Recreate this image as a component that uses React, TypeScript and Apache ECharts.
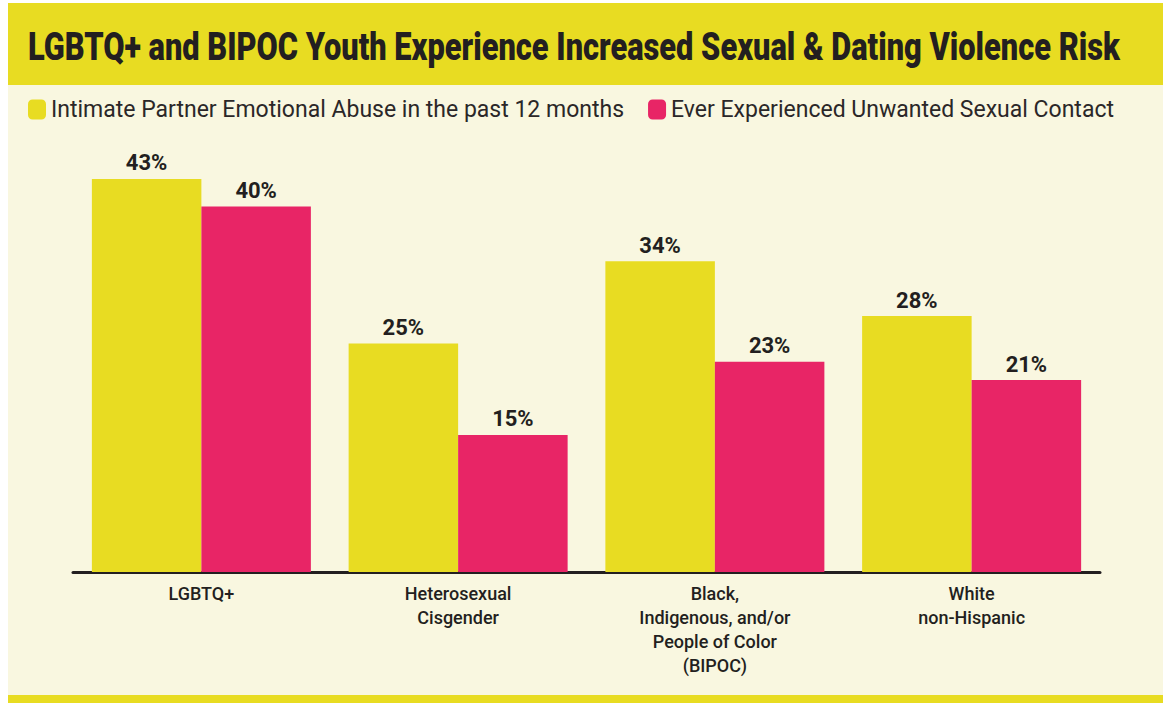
import React, { useEffect, useRef } from "react";
import * as echarts from "echarts";

const categories = [
  "LGBTQ+",
  "Heterosexual\nCisgender",
  "Black,\nIndigenous, and/or\nPeople of Color\n(BIPOC)",
  "White\nnon-Hispanic",
];
const seriesNames = [
  "Intimate Partner Emotional Abuse in the past 12 months",
  "Ever Experienced Unwanted Sexual Contact",
];
const emotionalAbuse = [43, 25, 34, 28];
const unwantedContact = [40, 15, 23, 21];
const titleText = "LGBTQ+ and BIPOC Youth Experience Increased Sexual & Dating Violence Risk";

const YELLOW = "#E8DC22";
const PINK = "#E82566";
const CREAM = "#F9F7E0";
const INK = "#231F20";
const FONT = "Roboto, 'Noto Sans', sans-serif";

function measure(text: string, font: string): number {
  const c = document.createElement("canvas").getContext("2d");
  if (!c) return 0;
  c.font = font;
  return c.measureText(text).width;
}

export default function App() {
  const ref = useRef<HTMLDivElement>(null);
  useEffect(() => {
    if (!ref.current) return;
    const chart = echarts.init(ref.current, null, { renderer: "svg" });
    const titleSize = 39;
    const titleWidth = measure(titleText, `900 ${titleSize}px Roboto`) || 1400;
    const titleScale = 1093 / titleWidth;
    const label = {
      show: true,
      position: "top" as const,
      distance: 5,
      formatter: "{c}%",
      fontFamily: FONT,
      fontWeight: "bold" as const,
      fontSize: 22,
      color: INK,
    };
    chart.setOption({
      animation: false,
      backgroundColor: "#ffffff",
      graphic: [
        { type: "rect", z: -10, shape: { x: 8, y: 3, width: 1155, height: 82 }, style: { fill: YELLOW } },
        { type: "rect", z: -10, shape: { x: 8, y: 85, width: 1155, height: 610 }, style: { fill: CREAM } },
        { type: "rect", z: -10, shape: { x: 8, y: 695, width: 1155, height: 8 }, style: { fill: YELLOW } },
        {
          type: "text",
          x: 28,
          y: 47,
          scaleX: titleScale,
          style: {
            text: titleText,
            fontFamily: FONT,
            fontWeight: 900,
            fontSize: titleSize,
            fill: INK,
            align: "left",
            verticalAlign: "middle",
          },
        },
      ],
      legend: {
        left: 28,
        top: 98,
        padding: 0,
        itemGap: 24,
        itemWidth: 18,
        itemHeight: 20,
        icon: "roundRect",
        textStyle: { fontFamily: FONT, fontSize: 23, color: "#2b2728" },
        data: seriesNames,
      },
      grid: { left: 73, right: 63, top: 115, bottom: 131, containLabel: false },
      xAxis: {
        type: "category",
        data: categories,
        axisLine: { show: true, lineStyle: { color: INK, width: 3 } },
        axisTick: { show: false },
        axisLabel: {
          interval: 0,
          margin: 9,
          fontFamily: FONT,
          fontWeight: 500,
          fontSize: 18,
          lineHeight: 24,
          color: INK,
        },
      },
      yAxis: { type: "value", min: 0, max: 50, show: false, splitLine: { show: false } },
      series: [
        {
          name: seriesNames[0],
          type: "bar",
          data: emotionalAbuse,
          barGap: "0%",
          barCategoryGap: "14.7%",
          itemStyle: { color: YELLOW },
          label,
        },
        {
          name: seriesNames[1],
          type: "bar",
          data: unwantedContact,
          itemStyle: { color: PINK },
          label,
        },
      ],
    });
    return () => chart.dispose();
  }, []);
  return (
    <div
      ref={ref}
      style={{ position: "fixed", left: 0, top: 0, width: 1163, height: 703 }}
    />
  );
}
